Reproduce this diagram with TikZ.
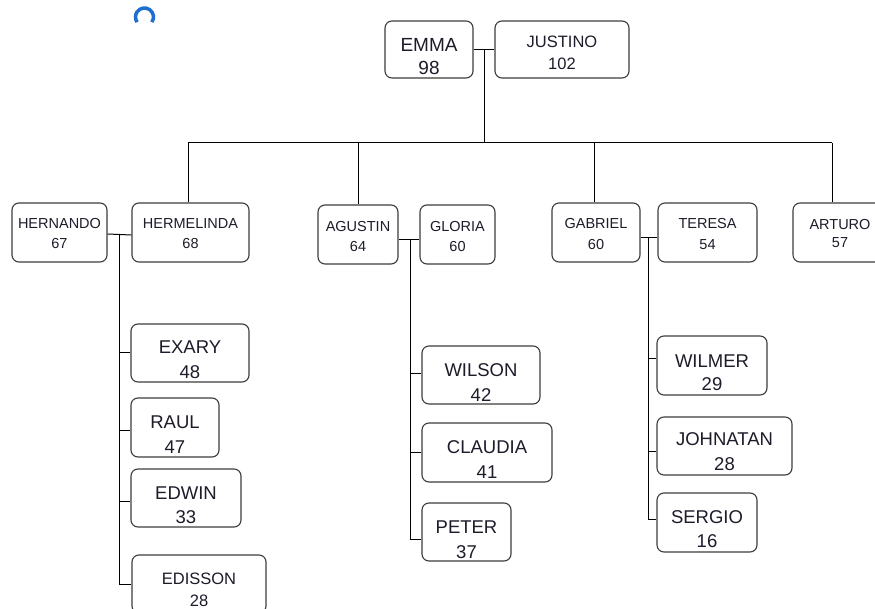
\documentclass[tikz,border=0pt]{standalone}
\usepackage{fontspec}
\setmainfont{Liberation Sans}
\usetikzlibrary{fit,calc}
\definecolor{txtc}{HTML}{1C1C2A}
\definecolor{boxc}{HTML}{3C3C3C}
\definecolor{logoc}{HTML}{1F6FD0}
\def\fs{18.5}
\tikzset{
  pbox/.style={draw=boxc, line width=1.1pt, rounded corners=7pt, inner sep=0pt},
  txt/.style={text=txtc, inner sep=0pt, anchor=base, font=\fontsize{\fs}{\fs}\selectfont},
  conn/.style={draw=black, line width=1pt},
}
% #1 name, #2 x1, #3 y1, #4 x2, #5 y2, #6 label, #7 label baseline, #8 number, #9 number baseline
\newcommand{\pbx}[9]{%
  \node[pbox, fit={(#2,#3) (#4,#5)}] (#1) {};
  \node[txt] (#1-n) at ({(#2+#4)/2},#7) {#6};
  \node[txt] (#1-v) at ({(#2+#4)/2},#9) {#8};
}
\begin{document}
\begin{tikzpicture}[x=1pt, y=-1pt]
\useasboundingbox (0,0) rectangle (875,609);
\fill[white] (0,0) rectangle (875,609);

% logo arc
\draw[logoc, line width=3.5pt] (144.5,17) ++(35:9) arc[start angle=35, end angle=-215, radius=9];

% top couple
\def\fs{19}
\pbx{emma}{385}{21}{473}{78}{EMMA}{52}{98}{75}
\def\fs{16.5}
\pbx{justino}{495}{21}{629}{78}{JUSTINO}{48}{102}{70}

% second row
\def\fs{14.5}
\pbx{hernando}{12}{203}{107}{262}{HERNANDO}{229}{67}{249}
\pbx{hermelinda}{132}{203}{249}{262}{HERMELINDA}{229}{68}{249}
\pbx{agustin}{318}{205}{398}{264}{AGUSTIN}{232}{64}{252}
\pbx{gloria}{420}{205}{495}{264}{GLORIA}{232}{60}{252}
\pbx{gabriel}{552}{203}{640}{262}{GABRIEL}{229}{60}{250}
\pbx{teresa}{658}{203}{757}{262}{TERESA}{229}{54}{250}
\pbx{arturo}{793}{203}{887}{262}{ARTURO}{230}{57}{248}

% children
\def\fs{18.5}
\pbx{exary}{131}{324}{249}{382}{EXARY}{354}{48}{378}
\pbx{raul}{131}{398}{219}{457}{RAUL}{428}{47}{453}
\pbx{edwin}{131}{469}{241}{527}{EDWIN}{499}{33}{523}
\def\fs{16.5}
\pbx{edisson}{132}{555}{266}{613}{EDISSON}{584}{28}{606}
\def\fs{18.5}
\pbx{wilson}{422}{346}{540}{404}{WILSON}{377}{42}{401}
\pbx{claudia}{422}{423}{552}{482}{CLAUDIA}{453}{41}{478}
\pbx{peter}{422}{503}{511}{561}{PETER}{533}{37}{558}
\pbx{wilmer}{657}{336}{767}{395}{WILMER}{367}{29}{390}
\pbx{johnatan}{657}{417}{792}{475}{JOHNATAN}{445}{28}{470}
\pbx{sergio}{657}{493}{757}{552}{SERGIO}{523}{16}{547}

% top couple connector and bus
\draw[conn] (emma.east) -- (justino.west);
\coordinate (tj) at ($(emma.east)!0.5!(justino.west)$);
\coordinate (bus) at (484,143);
\coordinate (hb) at (188,143);
\coordinate (ab) at (358,143);
\coordinate (gb) at (594,143);
\coordinate (rb) at (832,143);
\draw[conn] (tj) -- (tj |- bus);
\draw[conn] (hb) -- (rb);
\draw[conn] (hb) -- (hb |- hermelinda.north);
\draw[conn] (ab) -- (ab |- agustin.north);
\draw[conn] (gb) -- (gb |- gabriel.north);
\draw[conn] (rb) -- (rb |- arturo.north);

% left family
\draw[conn] ([yshift=-1.5pt]hernando.east) -- ([yshift=-2.5pt]hermelinda.west);
\coordinate (lj) at (119,235);
\draw[conn] (lj) |- (edisson.west);
\draw[conn] (lj |- exary.west) -- (exary.west);
\draw[conn] ([yshift=-3pt]lj |- raul.west) -- ([yshift=-3pt]raul.west);
\draw[conn] ([yshift=-3pt]lj |- edwin.west) -- ([yshift=-3pt]edwin.west);

% middle family
\draw[conn] ([yshift=-5.5pt]agustin.east) -- ([yshift=-5.5pt]gloria.west);
\coordinate (mj) at (410,240);
\draw[conn] (mj) |- ([yshift=-7pt]peter.west);
\draw[conn] ([yshift=2pt]mj |- wilson.west) -- ([yshift=2pt]wilson.west);
\draw[conn] (mj |- claudia.west) -- (claudia.west);

% right family
\draw[conn] ([yshift=-5.5pt]gabriel.east) -- ([yshift=-5.5pt]teresa.west);
\coordinate (rj) at (648,238);
\draw[conn] (rj) |- ([yshift=3pt]sergio.west);
\draw[conn] ([yshift=7pt]rj |- wilmer.west) -- ([yshift=7pt]wilmer.west);
\draw[conn] ([yshift=-5pt]rj |- johnatan.west) -- ([yshift=-5pt]johnatan.west);
\end{tikzpicture}
\end{document}
